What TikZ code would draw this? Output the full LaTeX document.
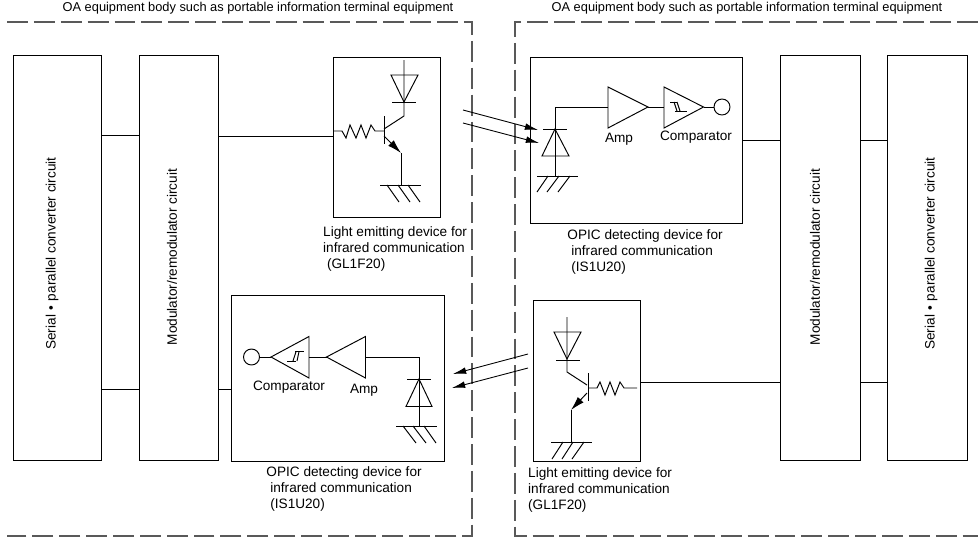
\documentclass[tikz,border=0pt]{standalone}
\usepackage{fontspec}
\setmainfont{Liberation Sans}
\usetikzlibrary{arrows.meta}
\tikzset{
    frameline/.style={black!65,line width=0.7pt,dash pattern=on 11.9pt off 3.4pt},
    lbl/.style={font=\fontsize{7.75}{9.1}\selectfont,inner sep=0},
    ttl/.style={font=\fontsize{7.3}{9}\selectfont,inner sep=0},
    captxt/.style={lbl,anchor=west,align=left},
    beam/.style={line width=0.5pt,-{Latex[length=7.5pt,width=3.8pt]}},
    emit/.style={-{Latex[length=8pt,width=4.5pt]}},
}
\begin{document}
\begin{tikzpicture}[x=0.02cm,y=-0.02cm,line width=0.55pt]
        \useasboundingbox (0,0) rectangle (978,538);
        % frames
        \draw[frameline] (7,22) -- (472,22) -- (472,536) -- (7,536);
        \draw[frameline] (978,22) -- (515,22) -- (515,536) -- (978,536);
        \node[ttl] (titleL) at (258,8) {OA equipment body such as portable information terminal equipment};
        \node[ttl] (titleR) at (747,8) {OA equipment body such as portable information terminal equipment};

        % outer blocks
        \draw (13,55) rectangle (101,460);
        \draw (139,55) rectangle (218,460);
        \draw (780,55) rectangle (860,460);
        \draw (887,55) rectangle (967,460);
        \node[lbl,rotate=90] (serL) at (52,253.5) {Serial\,\,•\,\,parallel converter circuit};
        \node[lbl,rotate=90] (modL) at (172,257) {Modulator/remodulator circuit};
        \node[lbl,rotate=90] (modR) at (815,257) {Modulator/remodulator circuit};
        \node[lbl,rotate=90] (serR) at (931,253.5) {Serial\,\,•\,\,parallel converter circuit};

        % inner blocks
        \draw (333,57) rectangle (440,217);
        \draw (530.5,57) rectangle (742,223);
        \draw (231.5,295) rectangle (444,461);
        \draw (533.5,300) rectangle (640,461);

        % links
        \draw (101,135) -- (139,135);
        \draw (101,389) -- (139,389);
        \draw (218,136) -- (333,136);
        \draw (218,389) -- (231.5,389);
        \draw (742,140) -- (780,140);
        \draw (860,140) -- (887,140);
        \draw (640,382) -- (780,382);
        \draw (860,382) -- (887,382);

        % top emitter
        \draw (404,60) -- (404,116) -- (384,129);
        \draw (391,75) -- (418,75) -- (404,102) -- cycle;
        \draw (392,102.5) -- (416,102.5);
        \draw (384,116) -- (384,144);
        \draw (333,131) -- (342,131) -- (346,138) -- (350,125) -- (356,138) -- (361,125) -- (366,138) -- (371,125) -- (375,131) -- (384,131);
        \draw[emit] (384,136) -- (401,153);
        \draw (401,153) -- (401,185);
        \draw (380,185) -- (421,185);
        \draw (387,185) -- (399,202);
        \draw (398,185) -- (410,202);
        \draw (408,185) -- (420,202);

        % beams top
        \draw[beam] (463,110) -- (538,130);
        \draw[beam] (463,123) -- (539,143);

        % top detector
        \draw (608,107) -- (555,107) -- (555,176);
        \draw (543,129) -- (567,129);
        \draw (555,129) -- (569,156) -- (542,156) -- cycle;
        \draw (537,176) -- (578,176);
        \draw (548,176) -- (537,192);
        \draw (559,176) -- (547,192);
        \draw (570,176) -- (558,192);
        \draw (608,87) -- (648,107) -- (608,128) -- cycle;
        \draw (648,107) -- (664,107);
        \draw (664,87) -- (703.5,107) -- (664,128) -- cycle;
        \draw (703.5,107) -- (714,107);
        \draw (722,107) circle[radius=8];
        \draw (670,102) -- (677,102);
        \draw (674,102) -- (677,111);
        \draw (677,102) -- (680,111);
        \draw (675,111) -- (687,111);
        \node[lbl] (ampT) at (619,139) {Amp};
        \node[lbl] (compT) at (696,137) {Comparator};

        % lower detector
        \draw (251.5,357) circle[radius=8];
        \draw (259.5,357) -- (271,357);
        \draw (271,357) -- (309,336.5) -- (309,378) -- cycle;
        \draw (309,357) -- (326.5,357);
        \draw (326.5,357) -- (365.5,336.5) -- (365.5,378) -- cycle;
        \draw (365.5,357) -- (419,357) -- (419,426);
        \draw (407,379) -- (431,379);
        \draw (419,379) -- (432,406.5) -- (406,406.5) -- cycle;
        \draw (396,426) -- (437,426);
        \draw (403,426) -- (416,443);
        \draw (413,426) -- (426,443);
        \draw (424,426) -- (436,443);
        \draw (287,361) -- (296,361);
        \draw (293,361) -- (296,351.7);
        \draw (297,361) -- (299,351.7);
        \draw (295,351.7) -- (304,351.7);
        \node[lbl] (compB) at (289,387) {Comparator};
        \node[lbl] (ampB) at (364,390) {Amp};

        % beams lower
        \draw[beam] (528,354) -- (453,374);
        \draw[beam] (528,368) -- (452,388);

        % lower emitter
        \draw (567,317) -- (567,372) -- (587,385);
        \draw (554,332) -- (581,332) -- (567,359) -- cycle;
        \draw (556,360) -- (580,360);
        \draw (588,373) -- (588,401);
        \draw (588,388) -- (597,388) -- (600,382) -- (605,395) -- (610,382) -- (615,395) -- (620,382) -- (624,388) -- (637,388);
        \draw[emit] (587,393) -- (571,410);
        \draw (571,410) -- (571,442);
        \draw (551,442) -- (592,442);
        \draw (563,442) -- (552,459);
        \draw (573,442) -- (562,459);
        \draw (584,442) -- (572,459);

        % captions
        \node[captxt] (capA) at (322.7,249) {Light emitting device for\\infrared communication\\\hspace*{2.2pt}(GL1F20)};
        \node[captxt] (capB) at (567,252) {OPIC detecting device for\\\hspace*{2.2pt}infrared communication\\\hspace*{2.2pt}(IS1U20)};
        \node[captxt] (capC) at (266,488.5) {OPIC detecting device for\\\hspace*{2.2pt}infrared communication\\\hspace*{2.2pt}(IS1U20)};
        \node[captxt] (capD) at (527.7,489.5) {Light emitting device for\\infrared communication\\(GL1F20)};
\end{tikzpicture}
\end{document}
